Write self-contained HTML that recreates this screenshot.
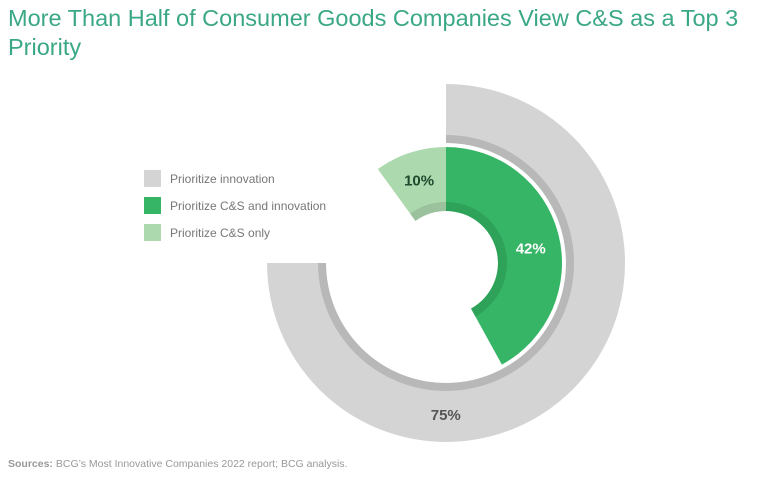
<!DOCTYPE html>
<html><head><meta charset="utf-8"><style>
body{margin:0;width:768px;height:492px;background:#fff;font-family:"Liberation Sans",sans-serif;overflow:hidden;position:relative}
.title{position:absolute;left:8px;top:4px;width:750px;font-size:23.5px;line-height:29px;color:#3aa886}
.leg{position:absolute;left:144px;font-size:12px;color:#777;display:flex;align-items:center}
.leg span.sw{width:17px;height:17px;margin-right:9px;display:inline-block}
.src{position:absolute;left:8px;top:458px;font-size:10.5px;color:#999}
</style></head><body>
<div class="title">More Than Half of Consumer Goods Companies View C&amp;S as a Top 3 Priority</div>
<div class="leg" style="top:170px"><span class="sw" style="background:#d4d4d4"></span>Prioritize innovation</div>
<div class="leg" style="top:197px"><span class="sw" style="background:#37b566"></span>Prioritize C&amp;S and innovation</div>
<div class="leg" style="top:224px"><span class="sw" style="background:#acd9ad"></span>Prioritize C&amp;S only</div>
<svg id="chart" width="768" height="492" style="position:absolute;left:0;top:0"></svg>
<div class="src"><b>Sources:</b> BCG’s Most Innovative Companies 2022 report; BCG analysis.</div>
<script>
const categories=["Prioritize innovation","Prioritize C&S and innovation","Prioritize C&S only"];
const values=[75,42,10];
const labels=["75%","42%","10%"];
const cx=446,cy=263;
const svg=document.getElementById('chart');
const NS='http://www.w3.org/2000/svg';
function pt(r,a){const t=(a-90)*Math.PI/180;return [cx+r*Math.cos(t),cy+r*Math.sin(t)];}
function arc(r0,r1,a0,a1,fill,name){
  const large=Math.abs(a1-a0)>180?1:0;const sw=a1>a0?1:0;
  const p1=pt(r1,a0),p2=pt(r1,a1),p3=pt(r0,a1),p4=pt(r0,a0);
  const d=`M${p1}A${r1},${r1} 0 ${large} ${sw} ${p2}L${p3}A${r0},${r0} 0 ${large} ${1-sw} ${p4}Z`;
  const e=document.createElementNS(NS,'path');e.setAttribute('d',d);e.setAttribute('fill',fill);
  
  
  svg.appendChild(e);
}
function txt(x,y,s,c,name){const t=document.createElementNS(NS,'text');t.setAttribute('x',x);t.setAttribute('y',y);
  t.setAttribute('text-anchor','middle');t.setAttribute('font-size','15');t.setAttribute('font-weight','bold');
  t.setAttribute('fill',c);t.setAttribute('font-family','Liberation Sans, sans-serif');t.textContent=s;
  
  
  svg.appendChild(t);}
const ang=v=>v/100*360;
arc(120,179,0,ang(values[0]),'#d4d4d4','arc-innovation');
arc(120,128,0,ang(values[0]),'#b8b8b8','arc-innovation-inner-band');
arc(52,116,0,ang(values[1]),'#37b566','arc-cs-and-innovation');
arc(52,61,0,ang(values[1]),'#2ea259','arc-cs-and-innovation-inner-band');
arc(52,116,0,-ang(values[2]),'#acd9ad','arc-cs-only');
arc(52,61,0,-ang(values[2]),'#9cc19d','arc-cs-only-inner-band');
let p=pt(152,ang(values[0])*0.667);txt(p[0],p[1]+5,labels[0],'#555','label-innovation');
p=pt(86,ang(values[1])*0.53);txt(p[0],p[1]+5,labels[1],'#fff','label-cs-and-innovation');
p=pt(87,-ang(values[2])/2);txt(p[0],p[1]+5,labels[2],'#1e4a2e','label-cs-only');
</script>
</body></html>
